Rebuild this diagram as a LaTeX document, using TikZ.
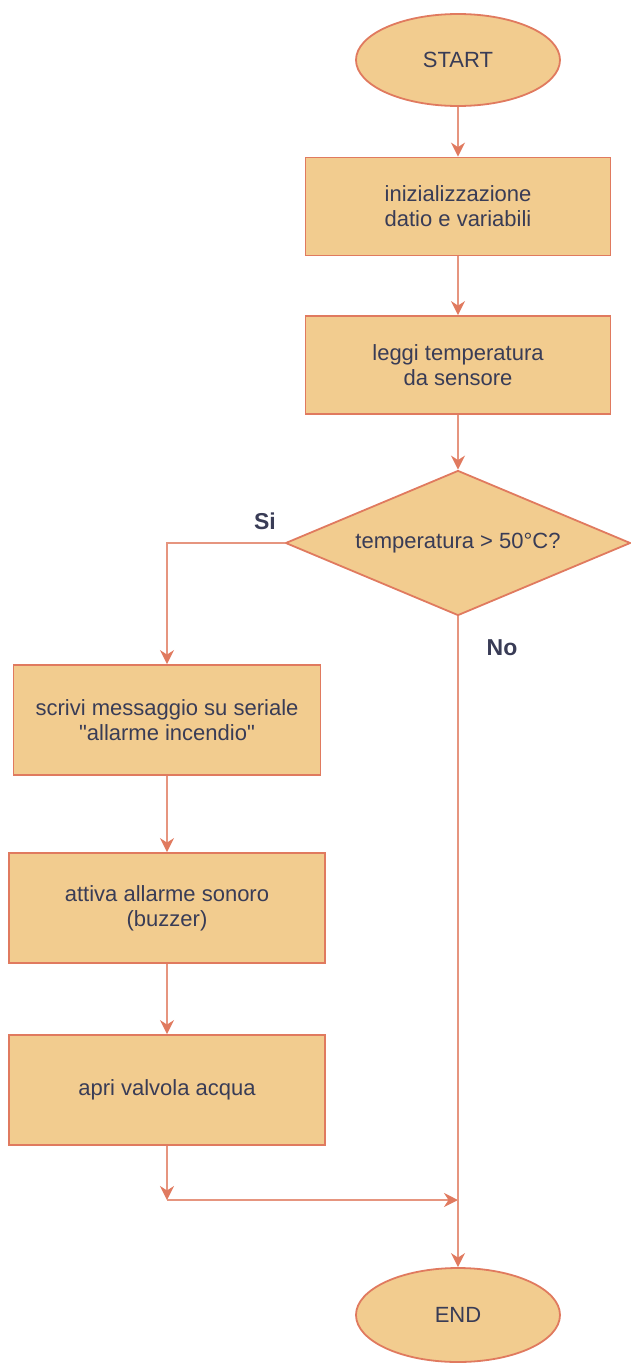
\documentclass[tikz,border=0pt]{standalone}
\usepackage{fontspec}
\setmainfont{Liberation Sans}
\newfontfamily\plainsans{Liberation Sans}
\usetikzlibrary{shapes.geometric,arrows.meta}
\definecolor{boxfill}{HTML}{F2CC8F}
\definecolor{boxline}{HTML}{E07A5F}
\definecolor{txt}{HTML}{393C56}
\tikzset{
  base/.style={draw=boxline, fill=boxfill, line width=1.8pt, text=txt, font=\plainsans\fontsize{22}{25}\selectfont, align=center, inner sep=0pt},
  term/.style={base, ellipse, minimum width=204pt, minimum height=92pt},
  proc/.style={base, rectangle, minimum width=305pt, minimum height=98pt},
  procL/.style={base, rectangle, minimum width=316pt, minimum height=110pt},
  dec/.style={base, diamond, shape aspect=2.379, minimum width=345pt, minimum height=145pt},
  conn/.style={draw=boxline!80, line width=2pt, -{Stealth[length=14pt,width=14pt,inset=4.5pt,color=boxline]}},
  lbl/.style={text=txt, font=\plainsans\fontsize{23}{25}\selectfont\bfseries}
}
\begin{document}
\begin{tikzpicture}[x=1pt,y=-1pt]
\useasboundingbox (0,0) rectangle (630,1363);
\node[term] (start) at (458,60) {START};
\node[proc] (b1) at (458,206.5) {inizializzazione\\datio e variabili};
\node[proc] (b2) at (458,365) {leggi temperatura\\da sensore};
\node[dec] (d) at (458,543) {temperatura > 50°C?};
\node[procL, minimum width=307pt] (b3) at (167,720) {scrivi messaggio su seriale\\"allarme incendio"};
\node[procL] (b4) at (167,908) {attiva allarme sonoro\\(buzzer)};
\node[procL] (b5) at (167,1090) {apri valvola acqua};
\node[term, minimum height=94pt] (end) at (458,1315) {END};
\node[lbl] (si) at (265,521) {Si};
\node[lbl] (no) at (502,648) {No};
\coordinate (m1) at (167,1200);
\coordinate (m2) at (458,1200);
\draw[conn] (start) -- (b1);
\draw[conn] (b1) -- (b2);
\draw[conn] (b2) -- (d);
\draw[conn] (d.west) -| (b3.north);
\draw[conn] (b3) -- (b4);
\draw[conn] (b4) -- (b5);
\draw[conn] (b5.south) -- (m1);
\draw[conn] (m1) -- (m2);
\draw[conn] (d.south) -- (end.north);
\end{tikzpicture}
\end{document}
